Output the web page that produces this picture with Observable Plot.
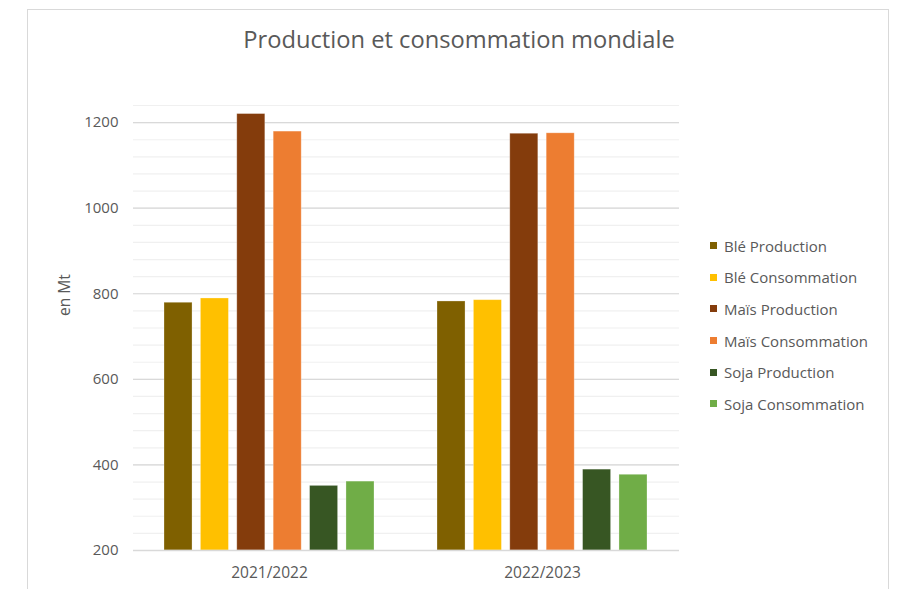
<!DOCTYPE html>
<html>
<head>
<meta charset="utf-8">
<script src="https://cdn.jsdelivr.net/npm/d3@7"></script>
<script src="https://cdn.jsdelivr.net/npm/@observablehq/plot@0.6"></script>
<style>
  html, body { margin: 0; padding: 0; background: #fff; }
  #wrap { position: relative; width: 897px; height: 589px; overflow: hidden; font-family: "Open Sans", sans-serif; }
  #frame { position: absolute; left: 27px; top: 9px; width: 862px; height: 620px; border: 1.5px solid #d9d9d9; box-sizing: border-box; pointer-events: none; }
  #title { position: absolute; left: 0; top: 0; width: 897px; height: 80px; }
  #title span { position: absolute; left: 459px; top: 23px; transform: translateX(-50%); font-size: 23.7px; color: #595959; white-space: nowrap; }
  #chart { position: absolute; left: 0; top: 80px; }
  #legend { position: absolute; left: 710px; top: 236px; }
  .li { height: 31.6px; display: flex; align-items: center; position: relative; top: -6px; font-size: 15px; color: #595959; white-space: nowrap; }
  .sw { width: 7px; height: 7px; margin-right: 7px; }
</style>
</head>
<body>
<div id="wrap">
  <div id="frame"></div>
  <div id="title"><span>Production et consommation mondiale</span></div>
  <div id="chart"></div>
  <div id="legend"></div>
</div>
<script>
const years = ["2021/2022", "2022/2023"];
const series = ["Blé Production", "Blé Consommation", "Maïs Production", "Maïs Consommation", "Soja Production", "Soja Consommation"];
const colors = ["#7f6000", "#ffc000", "#843c0c", "#ed7d31", "#375623", "#70ad47"];
const values2021 = [779, 789, 1220, 1179, 351, 361];
const values2022 = [782, 785, 1174, 1175, 389, 377];
const yMajorTicks = [200, 400, 600, 800, 1000, 1200];
const yMinorTicks = d3.range(200, 1241, 40);

const data = [];
series.forEach((s, i) => {
  data.push({year: years[0], series: s, value: values2021[i]});
  data.push({year: years[1], series: s, value: values2022[i]});
});

// cluster layout within each year band (band width = 210px)
const groupW = 210, barStep = groupW / (series.length - 0.23), barW = barStep * 0.77;

const barMarks = series.map((s, i) =>
  Plot.barY(data.filter(d => d.series === s), {
    x: "year", y1: 200, y2: "value", fill: "series",
    stroke: "#ffffff", strokeOpacity: 0.35, strokeWidth: 0.8,
    insetLeft: i * barStep,
    insetRight: groupW - (i * barStep + barW)
  })
);

const chart = Plot.plot({
  width: 897,
  height: 509,
  marginLeft: 133,
  marginRight: 218,
  marginTop: 25,
  marginBottom: 39,
  style: {fontFamily: "Open Sans, sans-serif", background: "transparent"},
  x: {domain: years, paddingInner: 0.23, paddingOuter: 0.115, axis: null},
  y: {domain: [200, 1240], axis: null},
  color: {domain: series, range: colors},
  marks: [
    Plot.ruleY(yMinorTicks, {stroke: "#f0f0f0", strokeWidth: 1.2}),
    Plot.ruleY(yMajorTicks, {stroke: "#d9d9d9", strokeWidth: 1.2}),
    ...barMarks,
    Plot.ruleY([200], {stroke: "#d9d9d9", strokeWidth: 1.5}),
    Plot.axisY(yMajorTicks, {tickSize: 0, tickPadding: 15, fontSize: 15, fill: "#595959", label: null, tickFormat: d3.format("d")}),
    Plot.axisX(years, {anchor: "bottom", tickSize: 0, tickPadding: 16, fontSize: 15.5, fill: "#595959", label: null}),
    Plot.text(["en Mt"], {frameAnchor: "left", dx: -68, dy: -12, rotate: -90, fontSize: 15.5, fill: "#595959"})
  ]
});
document.getElementById("chart").appendChild(chart);

const leg = document.getElementById("legend");
series.forEach((s, i) => {
  const row = document.createElement("div");
  row.className = "li";
  const sw = document.createElement("div");
  sw.className = "sw";
  sw.style.background = colors[i];
  const t = document.createElement("span");
  t.textContent = s;
  row.appendChild(sw);
  row.appendChild(t);
  leg.appendChild(row);
});
</script>
</body>
</html>
